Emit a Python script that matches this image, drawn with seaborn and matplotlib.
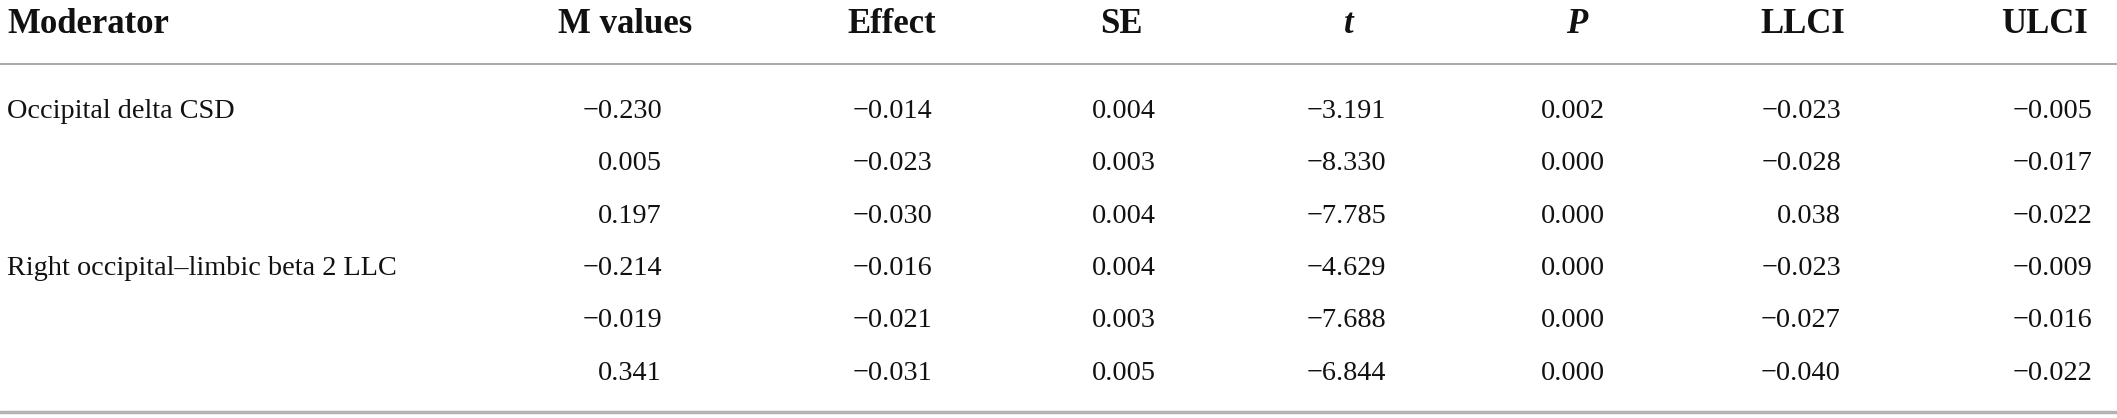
import matplotlib
matplotlib.use('Agg')
import matplotlib.pyplot as plt
import seaborn as sns

# table content
headers = ['Moderator', 'M values', 'Effect', 'SE', 't', 'P', 'LLCI', 'ULCI']
moderators = ['Occipital delta CSD', '', '', 'Right occipital\u2013limbic beta 2 LLC', '', '']
m_values = [-0.230, 0.005, 0.197, -0.214, -0.019, 0.341]
effect = [-0.014, -0.023, -0.030, -0.016, -0.021, -0.031]
se = [0.004, 0.003, 0.004, 0.004, 0.003, 0.005]
t_vals = [-3.191, -8.330, -7.785, -4.629, -7.688, -6.844]
p_vals = [0.002, 0.000, 0.000, 0.000, 0.000, 0.000]
llci = [-0.023, -0.028, 0.038, -0.023, -0.027, -0.040]
ulci = [-0.005, -0.017, -0.022, -0.009, -0.016, -0.022]

columns = [m_values, effect, se, t_vals, p_vals, llci, ulci]

sns.set_theme(style='white')
plt.rcParams['font.family'] = ['Liberation Serif', 'DejaVu Serif']

W, H = 2117, 418
fig = plt.figure(figsize=(W / 100, H / 100), dpi=100)
ax = fig.add_axes([0, 0, 1, 1])
ax.set_xlim(0, W)
ax.set_ylim(H, 0)
ax.axis('off')

# layout (pixels, baselines)
label_x = 7
num_right = [662, 932, 1156, 1386, 1605, 1841, 2092]
head_center = [625, 892, 1121, 1349, 1577, 1803, 2045]
header_base = 33
first_base = 118
row_step = 52.3
body_size = 20.3
head_size = 25
ink = '#111111'


def fmt(v):
    s = f'{abs(v):.3f}'
    return ('\u2212' + s) if v < 0 else s


ax.text(label_x, header_base, headers[0], fontsize=head_size, fontweight='bold',
        ha='left', va='baseline', color=ink)
for i, h in enumerate(headers[1:]):
    style = 'italic' if h in ('t', 'P') else 'normal'
    ax.text(head_center[i], header_base, h, fontsize=head_size, fontweight='bold',
            fontstyle=style, ha='center', va='baseline', color=ink)

ax.axhline(64, color='#9a9a9a', lw=1.2)
ax.axhline(412, color='#b3b3b3', lw=2.5)

for r, name in enumerate(moderators):
    y = first_base + r * row_step
    if name:
        ax.text(label_x, y, name, fontsize=body_size, ha='left', va='baseline', color=ink)
    for c, col in enumerate(columns):
        ax.text(num_right[c], y, fmt(col[r]), fontsize=body_size, ha='right',
                va='baseline', color=ink)

fig.savefig('out.png', dpi=100, facecolor='white')
